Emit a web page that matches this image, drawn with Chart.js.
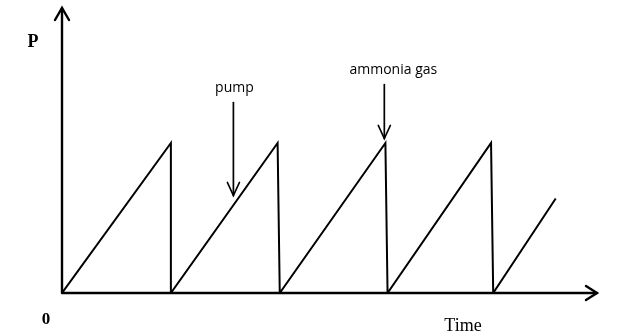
<!DOCTYPE html>
<html lang="en">
<head>
<meta charset="UTF-8" />
<title>P vs Time</title>
<style>
  html, body { margin: 0; padding: 0; background: #fff; }
  #wrap { width: 621px; height: 335px; }
</style>
</head>
<body>
<div id="wrap"><canvas id="chart" width="621" height="335"></canvas></div>

<script src="https://cdn.jsdelivr.net/npm/chart.js"></script>
<script>
// sawtooth: pressure builds up, then drops back to zero
const sawX = [0, 1.01, 1.01, 2.0, 2.02, 3.0, 3.02, 3.98, 4.0, 4.58];
const sawY = [0, 1.0, 0, 1.0, 0, 1.0, 0, 1.0, 0, 0.63];

// labelled arrows pointing at the curve
const markerLabels = ['pump', 'ammonia gas'];
const markerX = [1.59, 2.99];
const markerTop = [1.27, 1.39];
const markerTip = [0.65, 1.03];

const xMax = 5.0;
const yMax = 1.9;

function chevron(ctx, x, y, dx, dy, len, half) {
  // open arrow head, tip at (x,y), pointing along (dx,dy)
  const px = -dy, py = dx;
  ctx.beginPath();
  ctx.moveTo(x - dx * len + px * half, y - dy * len + py * half);
  ctx.lineTo(x, y);
  ctx.lineTo(x - dx * len - px * half, y - dy * len - py * half);
  ctx.stroke();
}

const sketch = {
  id: 'sketch',
  afterDraw(chart) {
    const ctx = chart.ctx;
    const xs = chart.scales.x, ys = chart.scales.y;
    const x0 = xs.getPixelForValue(0), y0 = ys.getPixelForValue(0);
    const xEnd = xs.getPixelForValue(xMax) - 4, yEnd = ys.getPixelForValue(yMax);
    ctx.save();
    ctx.strokeStyle = '#000';
    ctx.lineCap = 'round';
    ctx.lineJoin = 'miter';

    // axes with arrow heads
    ctx.lineWidth = 2.4;
    ctx.beginPath();
    ctx.moveTo(x0, y0);
    ctx.lineTo(x0, yEnd);
    ctx.moveTo(x0, y0);
    ctx.lineTo(xEnd, y0);
    ctx.stroke();
    chevron(ctx, x0, yEnd, 0, -1, 12, 7);
    chevron(ctx, xEnd, y0, 1, 0, 11, 7);

    // marker arrows
    ctx.lineWidth = 1.7;
    ctx.fillStyle = '#000';
    ctx.font = '14px "Open Sans", sans-serif';
    ctx.textAlign = 'center';
    ctx.textBaseline = 'alphabetic';
    markerLabels.forEach((label, i) => {
      const mx = xs.getPixelForValue(markerX[i]);
      const top = ys.getPixelForValue(markerTop[i]);
      const tip = ys.getPixelForValue(markerTip[i]);
      ctx.beginPath();
      ctx.moveTo(mx, top);
      ctx.lineTo(mx, tip);
      ctx.stroke();
      chevron(ctx, mx, tip, 0, 1, 13, 6);
      const off = i === 1 ? 9 : 1;
      ctx.fillText(label, mx + off, top - 11);
    });

    // axis labels
    ctx.font = 'bold 18px "Liberation Serif", serif';
    ctx.fillText('P', x0 - 29, yEnd + 39);
    ctx.font = 'bold 17px "Liberation Serif", serif';
    ctx.fillText('0', x0 - 16, y0 + 31);
    ctx.font = '18px "Liberation Serif", serif';
    ctx.fillText('Time', xs.getPixelForValue(3.72), y0 + 38);
    ctx.restore();
  }
};

new Chart(document.getElementById('chart'), {
  type: 'line',
  data: {
    datasets: [{
      data: sawX.map((x, i) => ({ x: x, y: sawY[i] })),
      borderColor: '#000',
      borderWidth: 2,
      pointRadius: 0,
      tension: 0,
      fill: false
    }]
  },
  options: {
    responsive: false,
    animation: false,
    layout: { padding: { left: 62, right: 20, top: 8, bottom: 42 } },
    plugins: { legend: { display: false }, tooltip: { enabled: false } },
    scales: {
      x: { type: 'linear', min: 0, max: xMax, display: false },
      y: { min: 0, max: yMax, display: false }
    }
  },
  plugins: [sketch]
});
</script>
</body>
</html>
